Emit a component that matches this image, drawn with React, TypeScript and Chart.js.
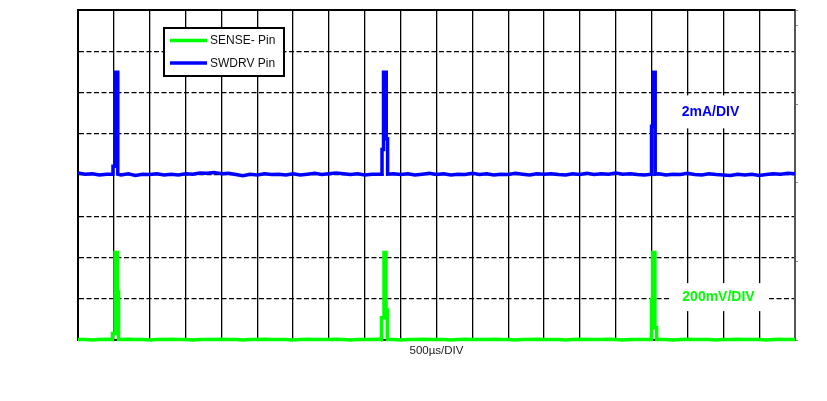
import React, { useEffect, useRef } from 'react';
import { Chart, registerables } from 'chart.js';

Chart.register(...registerables);

const FONT = "Arial, 'Liberation Sans', sans-serif";

// Axis setup (time in µs, amplitude in divisions)
const X_MIN_US = 0;
const X_MAX_US = 10000;
const X_STEP_US = 500;
const Y_MIN_DIV = 0;
const Y_MAX_DIV = 8;
const SAMPLE_STEP_US = 100;

// Text
const SENSE_LABEL = 'SENSE- Pin';
const SWDRV_LABEL = 'SWDRV Pin';
const X_TITLE = '500µs/DIV';
const SWDRV_SCALE_TEXT = '2mA/DIV';
const SENSE_SCALE_TEXT = '200mV/DIV';

// Baseline samples every 100 µs (0 .. 10000 µs), in divisions
const swdrvBaseline = [
  4.05, 4.02, 4.03, 4.00, 4.02, 4.02, 4.00, 4.03, 3.99, 4.02,
  4.01, 4.03, 4.00, 4.02, 4.00, 4.03, 4.02, 4.05, 4.04, 4.06,
  4.03, 4.04, 4.01, 3.98, 4.02, 4.00, 4.03, 4.01, 4.02, 4.00,
  4.03, 4.00, 4.02, 4.04, 4.01, 4.03, 4.05, 4.03, 4.01, 4.03,
  4.00, 4.02, 4.02, 4.02, 4.03, 4.01, 4.03, 4.00, 4.02, 4.04,
  4.01, 4.03, 4.00, 4.02, 4.01, 4.04, 4.01, 4.03, 4.00, 4.02,
  4.01, 4.04, 4.02, 4.00, 4.03, 4.02, 4.03, 4.01, 4.00, 4.03,
  4.01, 4.04, 4.01, 4.03, 4.02, 4.05, 4.02, 4.03, 4.01, 4.00,
  4.02, 4.03, 4.00, 4.02, 4.01, 4.04, 4.01, 4.00, 4.03, 4.01,
  4.00, 3.99, 4.02, 4.00, 4.02, 3.99, 4.01, 4.03, 4.02, 4.04,
  4.03,
];

const senseBaseline = [
  0.01, 0.01, 0.00, 0.01, 0.02, 0.01, 0.01, 0.02, 0.01, 0.01,
  0.00, 0.01, 0.01, 0.02, 0.01, 0.01, 0.00, 0.01, 0.01, 0.01,
  0.02, 0.01, 0.01, 0.00, 0.01, 0.01, 0.02, 0.01, 0.01, 0.01,
  0.00, 0.01, 0.02, 0.01, 0.01, 0.01, 0.02, 0.01, 0.00, 0.01,
  0.01, 0.01, 0.02, 0.01, 0.01, 0.00, 0.01, 0.01, 0.02, 0.01,
  0.01, 0.01, 0.00, 0.01, 0.02, 0.01, 0.01, 0.01, 0.02, 0.01,
  0.01, 0.00, 0.01, 0.01, 0.02, 0.01, 0.01, 0.01, 0.00, 0.01,
  0.02, 0.01, 0.01, 0.01, 0.02, 0.01, 0.00, 0.01, 0.01, 0.01,
  0.02, 0.01, 0.01, 0.00, 0.01, 0.02, 0.01, 0.01, 0.01, 0.00,
  0.01, 0.01, 0.02, 0.01, 0.01, 0.01, 0.00, 0.01, 0.02, 0.01,
  0.01,
];

// Pulse details: [time µs, level div]
const swdrvSpikes: [number, number][][] = [
  [[488, 4.02], [488, 4.21], [513, 4.21], [513, 6.49], [555, 6.49], [555, 4.02]],
  [[4240, 4.02], [4240, 4.62], [4261, 4.62], [4261, 6.49], [4299, 6.49], [4299, 4.88], [4318, 4.88], [4318, 4.02]],
  [[7999, 4.02], [7999, 5.18], [8022, 5.18], [8022, 6.49], [8050, 6.49], [8050, 4.02]],
];

const senseSpikes: [number, number][][] = [
  [[481, 0.01], [481, 0.16], [516, 0.16], [516, 2.12], [548, 2.12], [548, 1.17], [565, 1.17], [565, 0.01]],
  [[4233, 0.01], [4233, 0.54], [4268, 0.54], [4268, 2.12], [4296, 2.12], [4296, 0.73], [4314, 0.73], [4314, 0.01]],
  [[7999, 0.01], [7999, 0.98], [8013, 0.98], [8013, 2.12], [8046, 2.12], [8046, 0.30], [8070, 0.30], [8070, 0.01]],
];

// Annotation anchors in data units [µs, div]
const swdrvScaleAnchor = [8822, 5.53];
const senseScaleAnchor = [8933, 1.04];

function buildSeries(base: number[], spikes: [number, number][][]) {
  const pts: { x: number; y: number }[] = [];
  base.forEach((v, i) => {
    const t = i * SAMPLE_STEP_US;
    const inside = spikes.some((s) => t >= s[0][0] - 10 && t <= s[s.length - 1][0] + 10);
    if (!inside) pts.push({ x: t, y: v });
  });
  spikes.forEach((s) => s.forEach(([t, v]) => pts.push({ x: t, y: v })));
  pts.sort((a, b) => a.x - b.x);
  return pts;
}

const decorPlugin = {
  id: 'decor',
  beforeDatasetsDraw(chart: any) {
    const { ctx, scales } = chart;
    const xs = scales.x;
    const ys = scales.y;
    ctx.save();
    // 2mA/DIV label
    let cx = xs.getPixelForValue(swdrvScaleAnchor[0]);
    let cy = ys.getPixelForValue(swdrvScaleAnchor[1]);
    ctx.fillStyle = '#ffffff';
    ctx.fillRect(cx - 42, cy - 16.5, 84, 33);
    ctx.font = `bold 14px ${FONT}`;
    ctx.textAlign = 'center';
    ctx.textBaseline = 'middle';
    ctx.fillStyle = '#0000ff';
    ctx.fillText(SWDRV_SCALE_TEXT, cx, cy);
    // 200mV/DIV label
    cx = xs.getPixelForValue(senseScaleAnchor[0]);
    cy = ys.getPixelForValue(senseScaleAnchor[1]);
    ctx.fillStyle = '#ffffff';
    ctx.fillRect(cx - 48.5, cy - 14, 97, 28);
    ctx.fillStyle = '#00ff00';
    ctx.fillText(SENSE_SCALE_TEXT, cx, cy);
    ctx.restore();
  },
  afterDraw(chart: any) {
    const { ctx, chartArea } = chart;
    ctx.save();
    // top frame line
    ctx.strokeStyle = '#000';
    ctx.lineWidth = 2;
    ctx.beginPath();
    ctx.moveTo(chartArea.left - 1, chartArea.top);
    ctx.lineTo(chartArea.right, chartArea.top);
    ctx.stroke();
    // legend box
    const lx = chartArea.left + 86;
    const ly = chartArea.top + 18;
    const lw = 120;
    const lh = 48;
    ctx.fillStyle = '#fff';
    ctx.fillRect(lx, ly, lw, lh);
    ctx.strokeRect(lx, ly, lw, lh);
    const items = chart.data.datasets.map((d: any) => ({ label: d.label, color: d.borderColor }));
    ctx.font = `12px ${FONT}`;
    ctx.textAlign = 'left';
    ctx.textBaseline = 'middle';
    items.forEach((it: any, i: number) => {
      const y = ly + 12.5 + i * 22.5;
      ctx.strokeStyle = it.color;
      ctx.lineWidth = 3.5;
      ctx.beginPath();
      ctx.moveTo(lx + 6, y);
      ctx.lineTo(lx + 43, y);
      ctx.stroke();
      ctx.fillStyle = '#111';
      ctx.fillText(it.label, lx + 46, y + 0.5);
    });
    ctx.restore();
  },
};

export default function App() {
  const ref = useRef<HTMLCanvasElement>(null);
  useEffect(() => {
    const chart = new Chart(ref.current as HTMLCanvasElement, {
      type: 'line',
      data: {
        datasets: [
          {
            label: SENSE_LABEL,
            data: buildSeries(senseBaseline, senseSpikes),
            borderColor: '#00ff00',
            borderWidth: 3.5,
            borderDash: [100000, 0],
            pointRadius: 0,
            tension: 0,
            borderJoinStyle: 'miter',
            clip: false,
          },
          {
            label: SWDRV_LABEL,
            data: buildSeries(swdrvBaseline, swdrvSpikes),
            borderColor: '#0000ff',
            borderWidth: 3.5,
            borderDash: [100000, 0],
            pointRadius: 0,
            tension: 0,
            borderJoinStyle: 'miter',
            clip: false,
          },
        ],
      },
      options: {
        animation: false,
        responsive: true,
        maintainAspectRatio: false,
        layout: { padding: { left: 78, top: 10, right: 0, bottom: 43 } },
        plugins: { legend: { display: false }, tooltip: { enabled: false } },
        scales: {
          x: {
            type: 'linear',
            min: X_MIN_US,
            max: X_MAX_US,
            ticks: { stepSize: X_STEP_US, display: false },
            grid: {
              color: (c: any) =>
                c.tick && (c.tick.value === X_MIN_US || c.tick.value === X_MAX_US) ? 'rgba(0,0,0,0)' : '#000',
              lineWidth: 1.3,
              drawTicks: false,
            },
            border: { display: true, color: '#000', width: 2 },
            title: {
              display: true,
              text: X_TITLE,
              color: '#222',
              font: { family: FONT, size: 11.5 },
              padding: 0,
            },
            afterFit: (s: any) => {
              s.height = 18;
            },
          },
          y: {
            type: 'linear',
            position: 'left',
            min: Y_MIN_DIV,
            max: Y_MAX_DIV,
            ticks: { stepSize: 1, display: false },
            grid: {
              color: (c: any) =>
                c.tick && (c.tick.value === Y_MIN_DIV || c.tick.value === Y_MAX_DIV) ? 'rgba(0,0,0,0)' : '#000',
              lineWidth: 1.3,
              drawTicks: false,
            },
            border: { display: true, color: '#000', width: 2, dash: [5, 2.5] },
            afterFit: (s: any) => {
              s.width = 0;
            },
          },
          y2: {
            type: 'linear',
            position: 'right',
            min: 0,
            max: 4.2,
            ticks: { stepSize: 1, display: false },
            grid: { drawOnChartArea: false, drawTicks: true, tickLength: 3, color: '#888', lineWidth: 1 },
            border: { display: true, color: '#555', width: 2 },
            afterFit: (s: any) => {
              s.width = 32;
            },
          },
        },
      },
      plugins: [decorPlugin],
    } as any);
    return () => chart.destroy();
  }, []);
  return (
    <div style={{ position: 'fixed', left: 0, top: 0, width: 827, height: 401, background: '#fff' }}>
      <canvas ref={ref} />
    </div>
  );
}
